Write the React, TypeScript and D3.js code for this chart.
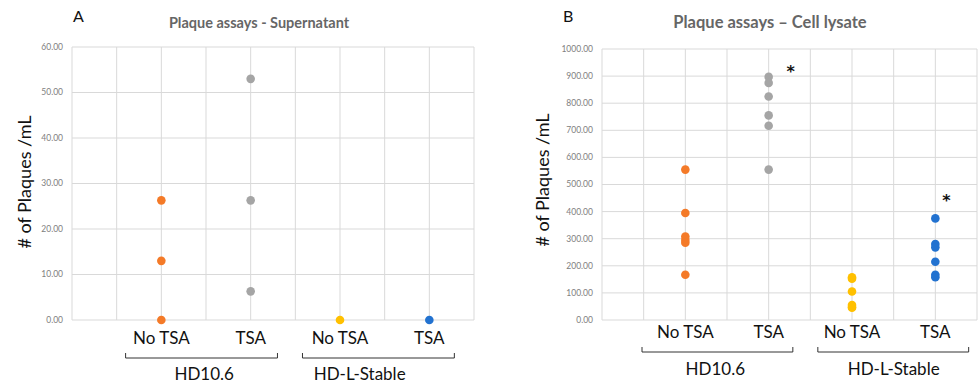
import * as d3 from "d3";

// group positions on the x axis (Excel scatter, 0..4.5)
const catX = [1, 2, 3, 4];
const catLabels = ["No TSA", "TSA", "No TSA", "TSA"];
const groupLabels = ["HD10.6", "HD-L-Stable"];
const seriesColors = ["#F47A28", "#A5A5A5", "#FFC000", "#2272D0"];

// panel A - supernatant
const supHD106NoTSA = [26.3, 13.0, 0];
const supHD106TSA = [53.0, 26.3, 6.3];
const supHDLNoTSA = [0];
const supHDLTSA = [0];
const supTicks = [0, 10, 20, 30, 40, 50, 60];

// panel B - cell lysate
const lysHD106NoTSA = [555, 395, 308, 295, 285, 167];
const lysHD106TSA = [897, 875, 825, 755, 717, 555];
const lysHDLNoTSA = [158, 152, 105, 55, 48, 45];
const lysHDLTSA = [375, 280, 268, 215, 167, 158];
const lysTicks = [0, 100, 200, 300, 400, 500, 600, 700, 800, 900, 1000];

const FONT = "Lato, 'Open Sans', sans-serif";

type PanelProps = {
  letter: string;
  title: string;
  titleSize: number;
  titleX: number;
  left: number;
  right: number;
  top: number;
  bottom: number;
  yMax: number;
  ticks: number[];
  series: number[][];
  catY: number;
  bracketY: number;
  brackets: number[][]; // in x-axis units
  groupX: number[];
  groupY: number;
  yTitleX: number;
  yTitleY: number;
  letterX: number;
  stars: { cat: number; value: number; dx: number }[];
};

function Panel(p: PanelProps) {
  const x = d3.scaleLinear().domain([0, 4.5]).range([p.left, p.right]);
  const y = d3.scaleLinear().domain([0, p.yMax]).range([p.bottom, p.top]);
  const vGrid = d3.range(0, 4.51, 0.5);
  return (
    <g>
      <text x={p.letterX} y={22} fontFamily={FONT} fontSize={16} fill="#111">
        {p.letter}
      </text>
      <text
        x={p.titleX}
        y={28}
        textAnchor="middle"
        fontFamily={FONT}
        fontSize={p.titleSize}
        fontWeight="bold"
        fill="#666"
      >
        {p.title}
      </text>
      {p.ticks.map((t) => (
        <g key={"h" + t}>
          <line x1={p.left} x2={p.right} y1={y(t)} y2={y(t)} stroke="#d9d9d9" strokeWidth={1} />
          <text
            x={p.left - 9}
            y={y(t)}
            dy="0.35em"
            textAnchor="end"
            fontFamily={FONT}
            fontSize={8.5}
            fill="#808080"
          >
            {t.toFixed(2)}
          </text>
        </g>
      ))}
      {vGrid.map((v) => (
        <line key={"v" + v} x1={x(v)} x2={x(v)} y1={p.top} y2={p.bottom} stroke="#d9d9d9" strokeWidth={1} />
      ))}
      {p.series.map((vals, i) =>
        vals.map((v, j) => (
          <circle key={i + "-" + j} cx={x(catX[i])} cy={y(v)} r={4.3} fill={seriesColors[i]} />
        ))
      )}
      {p.stars.map((s, i) => (
        <text
          key={"s" + i}
          x={x(catX[s.cat]) + s.dx}
          y={y(s.value) + 9}
          textAnchor="middle"
          fontFamily="'DejaVu Sans', sans-serif"
          fontSize={16}
          fontWeight="bold"
          fill="#111"
        >
          *
        </text>
      ))}
      {catLabels.map((c, i) => (
        <text
          key={"c" + i}
          x={x(catX[i])}
          y={p.catY}
          dy="0.35em"
          textAnchor="middle"
          fontFamily={FONT}
          fontSize={17}
          fill="#111"
        >
          {c}
        </text>
      ))}
      {p.brackets.map((g, i) => {
        const x1 = x(g[0]);
        const x2 = x(g[1]);
        return (
          <g key={"g" + i}>
            <path
              d={`M${x1},${p.bracketY - 5}V${p.bracketY}H${x2}V${p.bracketY - 5}`}
              fill="none"
              stroke="#333"
              strokeWidth={1}
            />
            <text
              x={x(p.groupX[i])}
              y={p.groupY}
              dy="0.35em"
              textAnchor="middle"
              fontFamily={FONT}
              fontSize={17}
              fill="#111"
            >
              {groupLabels[i]}
            </text>
          </g>
        );
      })}
      <text
        transform={`translate(${p.yTitleX},${p.yTitleY}) rotate(-90)`}
        textAnchor="middle"
        dy="0.35em"
        fontFamily={FONT}
        fontSize={18}
        fill="#111"
      >
        # of Plaques /mL
      </text>
    </g>
  );
}

export default function App() {
  return (
    <svg
      width={978}
      height={385}
      style={{ position: "absolute", left: 0, top: 0, background: "#fff" }}
    >
      <Panel
        letter="A"
        title="Plaque assays - Supernatant"
        titleSize={14.5}
        titleX={259}
        left={72}
        right={474}
        top={47}
        bottom={320}
        yMax={60}
        ticks={supTicks}
        series={[supHD106NoTSA, supHD106TSA, supHDLNoTSA, supHDLTSA]}
        catY={338}
        bracketY={358}
        brackets={[
          [0.6, 2.3],
          [2.58, 4.28],
        ]}
        groupX={[1.48, 3.22]}
        groupY={374}
        yTitleX={25}
        yTitleY={182}
        letterX={73}
        stars={[]}
      />
      <Panel
        letter="B"
        title="Plaque assays – Cell lysate"
        titleSize={16.5}
        titleX={770}
        left={602}
        right={977}
        top={49}
        bottom={320}
        yMax={1000}
        ticks={lysTicks}
        series={[lysHD106NoTSA, lysHD106TSA, lysHDLNoTSA, lysHDLTSA]}
        catY={332}
        bracketY={352}
        brackets={[
          [0.48, 2.29],
          [2.59, 4.4],
        ]}
        groupX={[1.36, 3.5]}
        groupY={369}
        yTitleX={543}
        yTitleY={180}
        letterX={563}
        stars={[
          { cat: 1, value: 930, dx: 22 },
          { cat: 3, value: 454, dx: 11 },
        ]}
      />
    </svg>
  );
}
